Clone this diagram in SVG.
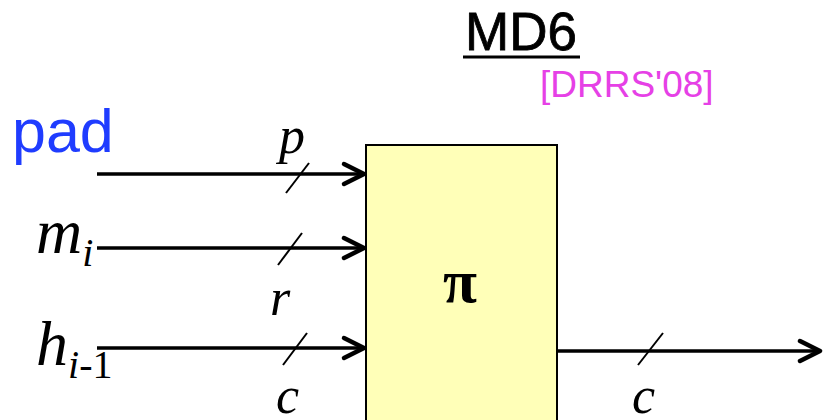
<svg xmlns="http://www.w3.org/2000/svg" width="823" height="420" viewBox="0 0 823 420">
  <style>
    .conn { stroke: #000; stroke-width: 3.5; fill: none; }
    .slash { stroke: #000; stroke-width: 2; }
    .math { font-family: "Liberation Serif", "Times New Roman", serif; font-style: italic; fill: #000; }
    .up { font-style: normal; }
  </style>
  <defs>
    <marker id="arr" markerUnits="userSpaceOnUse" viewBox="-26 -14 30 28" markerWidth="30" markerHeight="28" refX="0" refY="0" orient="auto">
      <path d="M-20,-10 L0,0 L-20,10" fill="none" stroke="#000" stroke-width="4.5" stroke-linecap="round" stroke-linejoin="round"/>
    </marker>
  </defs>
  <rect width="823" height="420" fill="#fff"/>

  <g id="title">
    <text x="465" y="50" font-family="Liberation Sans, Arial, sans-serif" font-size="53" fill="#000" stroke="#000" stroke-width="0.8">MD6</text>
    <line x1="463" y1="57" x2="580" y2="57" stroke="#000" stroke-width="3"/>
  </g>
  <g id="citation">
    <text x="540" y="97" font-family="Liberation Sans, Arial, sans-serif" font-size="37" fill="#E640E6">[DRRS'08]</text>
  </g>

  <g id="pi-box">
    <rect x="366" y="145" width="191" height="290" fill="#FFFFB8" stroke="#000" stroke-width="2"/>
    <text x="460" y="302" text-anchor="middle" font-family="Liberation Serif, 'Times New Roman', serif" font-size="62" font-weight="bold" fill="#000">π</text>
  </g>

  <g id="label-pad">
    <text x="12" y="152" font-family="Liberation Sans, Arial, sans-serif" font-size="61" fill="#1F3CFF">pad</text>
  </g>
  <g id="label-m">
    <text class="math" x="36" y="253" font-size="64">m<tspan font-size="40" dy="13">i</tspan></text>
  </g>
  <g id="label-h">
    <text class="math" x="36" y="365" font-size="64">h<tspan font-size="40" dy="13">i</tspan><tspan class="up" font-size="40">-1</tspan></text>
  </g>

  <g id="connectors">
    <line class="conn" x1="97" y1="174" x2="364" y2="174" marker-end="url(#arr)"/>
    <line class="conn" x1="97" y1="248" x2="364" y2="248" marker-end="url(#arr)"/>
    <line class="conn" x1="97" y1="348" x2="364" y2="348" marker-end="url(#arr)"/>
    <line class="conn" x1="557" y1="351" x2="820" y2="351" marker-end="url(#arr)"/>
    <line class="slash" x1="286" y1="193" x2="309" y2="163"/>
    <line class="slash" x1="278" y1="265" x2="302" y2="233"/>
    <line class="slash" x1="283" y1="365" x2="307" y2="333"/>
    <line class="slash" x1="638" y1="365" x2="663" y2="333"/>
  </g>

  <g id="connector-labels">
    <text class="math" x="279" y="153" font-size="52">p</text>
    <text class="math" x="270" y="315" font-size="52">r</text>
    <text class="math" x="276" y="413" font-size="52">c</text>
    <text class="math" x="632" y="413" font-size="52">c</text>
  </g>
</svg>
